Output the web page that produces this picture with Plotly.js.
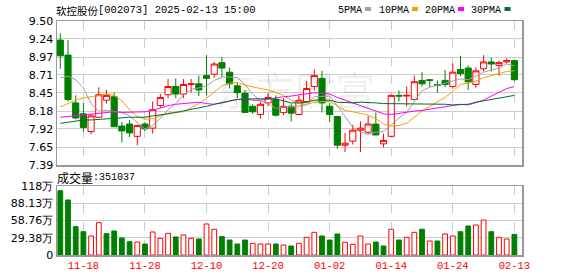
<!DOCTYPE html>
<html><head><meta charset="utf-8">
<script src="https://cdn.plot.ly/plotly-3.0.1.min.js"></script>
<style>html,body{margin:0;padding:0;background:#fff}#chart{width:578px;height:276px}</style>
</head><body><div id="chart"></div>
<script>
const dates = ['11-13','11-14','11-15','11-18','11-19','11-20','11-21','11-22','11-25','11-26','11-27','11-28','11-29',
'12-02','12-03','12-04','12-05','12-06','12-09','12-10','12-11','12-12','12-13','12-16','12-17','12-18','12-19','12-20',
'12-23','12-24','12-25','12-26','12-27','12-30','12-31',
'01-02','01-03','01-06','01-07','01-08','01-09','01-10','01-13','01-14','01-15','01-16','01-17','01-20','01-21','01-22','01-23','01-24','01-27',
'02-05','02-06','02-07','02-10','02-11','02-12','02-13'];
const openP  = [9.22,9.00,8.30,8.14,7.88,8.09,8.34,8.39,7.96,7.99,7.81,7.99,7.93,8.26,8.42,8.54,8.43,8.57,8.58,8.70,8.72,8.89,8.75,8.55,8.44,8.25,8.13,8.30,8.35,8.16,8.25,8.13,8.32,8.54,8.66,8.25,8.10,7.68,7.74,7.90,7.87,7.99,7.70,7.81,8.41,8.40,8.35,8.63,8.64,8.57,8.63,8.54,8.79,8.81,8.57,8.80,8.90,8.85,8.90,8.92];
const highP  = [9.32,9.22,8.41,8.30,8.14,8.53,8.49,8.45,8.02,8.05,7.98,8.02,8.32,8.43,8.65,8.66,8.65,8.65,8.70,9.00,8.90,8.97,8.82,8.59,8.49,8.28,8.32,8.44,8.41,8.37,8.29,8.40,8.62,8.79,8.77,8.30,8.11,7.86,7.98,8.03,8.11,8.16,7.85,8.42,8.48,8.54,8.70,8.75,8.65,8.63,8.78,8.88,8.99,8.85,8.82,9.00,8.96,8.92,8.95,8.93];
const lowP   = [8.80,8.32,8.06,7.88,7.84,8.08,8.29,7.95,7.72,7.80,7.68,7.89,7.85,8.23,8.37,8.37,8.37,8.45,8.40,8.41,8.67,8.68,8.51,8.37,8.16,8.14,8.07,8.25,8.10,8.12,8.03,8.12,8.30,8.48,8.16,8.02,7.63,7.58,7.69,7.58,7.84,7.83,7.65,7.80,8.32,8.25,8.34,8.54,8.53,8.45,8.53,8.51,8.69,8.49,8.52,8.76,8.76,8.70,8.88,8.62];
const closeP = [8.99,8.35,8.08,7.94,8.11,8.42,8.41,7.95,7.89,7.86,7.97,7.92,8.20,8.38,8.54,8.43,8.57,8.58,8.49,8.66,8.87,8.81,8.58,8.45,8.16,8.17,8.28,8.38,8.12,8.25,8.15,8.34,8.51,8.70,8.30,8.13,7.68,7.71,7.90,7.93,7.99,7.83,7.75,8.41,8.40,8.41,8.61,8.58,8.63,8.56,8.57,8.75,8.73,8.61,8.77,8.90,8.87,8.89,8.92,8.64];
const volume = [1095000,937000,482000,397000,324000,551000,363000,409000,290000,227000,221000,187000,392000,284000,369000,307000,341000,284000,272000,528000,438000,312000,255000,187000,255000,199000,187000,187000,187000,170000,153000,199000,301000,386000,324000,255000,358000,216000,182000,324000,187000,221000,153000,438000,255000,301000,386000,438000,238000,238000,358000,324000,397000,494000,511000,596000,397000,301000,272000,351037];
const ma5  = [8.67,8.69,8.64,8.52,8.29,8.18,8.19,8.17,8.16,8.11,8.02,7.92,7.97,8.07,8.20,8.29,8.42,8.50,8.52,8.55,8.63,8.68,8.68,8.67,8.57,8.43,8.33,8.29,8.22,8.24,8.24,8.25,8.27,8.39,8.40,8.40,8.26,8.10,7.94,7.87,7.84,7.87,7.88,7.98,8.08,8.16,8.32,8.48,8.53,8.56,8.59,8.62,8.65,8.64,8.69,8.75,8.78,8.81,8.87,8.84];
const ma10 = [8.24,8.29,8.34,8.37,8.39,8.42,8.43,8.41,8.33,8.20,8.10,8.06,8.07,8.11,8.15,8.16,8.17,8.23,8.29,8.37,8.46,8.55,8.59,8.60,8.56,8.53,8.51,8.49,8.45,8.41,8.34,8.29,8.28,8.31,8.32,8.32,8.26,8.19,8.17,8.14,8.12,8.07,7.99,7.96,7.97,8.00,8.09,8.18,8.25,8.32,8.38,8.47,8.57,8.59,8.62,8.67,8.70,8.73,8.76,8.77];
const ma20 = [8.09,8.10,8.11,8.13,8.14,8.15,8.16,8.17,8.16,8.16,8.16,8.17,8.19,8.23,8.26,8.28,8.29,8.30,8.31,8.29,8.28,8.30,8.33,8.35,8.36,8.34,8.34,8.36,8.37,8.39,8.40,8.42,8.44,8.45,8.44,8.43,8.38,8.34,8.31,8.27,8.23,8.18,8.14,8.13,8.15,8.16,8.18,8.19,8.21,8.23,8.25,8.27,8.28,8.27,8.30,8.34,8.40,8.45,8.51,8.54];
const ma30 = [8.00,8.02,8.04,8.05,8.05,8.06,8.07,8.07,8.08,8.09,8.09,8.09,8.11,8.12,8.14,8.16,8.18,8.20,8.22,8.25,8.28,8.31,8.33,8.35,8.36,8.36,8.36,8.36,8.36,8.33,8.30,8.30,8.31,8.34,8.34,8.34,8.31,8.30,8.30,8.31,8.31,8.30,8.29,8.29,8.28,8.28,8.29,8.29,8.29,8.29,8.28,8.27,8.28,8.28,8.31,8.33,8.35,8.37,8.39,8.41];
const priceTicks = [7.39,7.65,7.92,8.18,8.45,8.71,8.97,9.24,9.50];
const volTickVals = [0,293800,587600,881300,1175200];
const volTickText = ['0','29.38万','58.76万','88.13万','118万'];
const dateTicks = ['11-18','11-28','12-10','12-20','01-02','01-14','01-24','02-13'];
const maNames = ['5PMA','10PMA','20PMA','30PMA'];
const maColors = ['#a0a0a0','#f2a100','#ff00ff','#006e3a'];

const RED = '#ff0000', GREEN = '#008000';
const up = volume.map((v,i)=> closeP[i] >= (i>0 ? closeP[i-1] : openP[i]));

const traces = [];
traces.push({type:'candlestick', x:dates, open:openP, high:highP, low:lowP, close:closeP,
  xaxis:'x', yaxis:'y', whiskerwidth:0, hoverinfo:'none', showlegend:false,
  increasing:{line:{color:RED,width:1}, fillcolor:'#ffffff'},
  decreasing:{line:{color:GREEN,width:1}, fillcolor:GREEN}});
[ma5,ma10,ma20,ma30].forEach((m,k)=>traces.push({type:'scatter', mode:'lines', x:dates, y:m,
  xaxis:'x', yaxis:'y', line:{color:maColors[k], width:1}, hoverinfo:'none', showlegend:false}));
traces.push({type:'bar', x:dates, y:volume, xaxis:'x2', yaxis:'y2', width:0.62, hoverinfo:'none', showlegend:false,
  marker:{color:up.map(u=>u?'#ffffff':GREEN), line:{color:up.map(u=>u?RED:GREEN), width:1}}});

const W=578, H=276;
const px = v => v/W, py = v => (H-v)/H;
const dom = [px(57), px(522)];
const mono = 'Liberation Mono, DejaVu Sans Mono, monospace';
const cjk = 'Noto Sans CJK SC, sans-serif';
const tickF = {family:'DejaVu Sans, sans-serif', size:11, color:'#000'};

const annotations = [
  {text:'软控股份', x:px(55), y:py(10), xanchor:'left', yanchor:'middle', font:{family:cjk,size:10.5,color:'#000'}},
  {text:'[002073] 2025-02-13 15:00', x:px(97), y:py(10), xanchor:'left', yanchor:'middle', font:{family:mono,size:10.5,color:'#000'}},
  {text:'成交量', x:px(56), y:py(177), xanchor:'left', yanchor:'middle', font:{family:cjk,size:12,color:'#000'}},
  {text:':' + String(volume[volume.length-1]), x:px(92), y:py(177), xanchor:'left', yanchor:'middle', font:{family:mono,size:10,color:'#000'}},
  {text:'东方财富', x:px(295), y:py(89), xanchor:'center', yanchor:'middle', font:{family:cjk,size:40,color:'rgba(0,0,0,0.07)'}}
];
const legX = [337, 378, 424, 470];
const sqX = [365, 412, 458, 504.5];
const shapes = [];
maNames.forEach((n,k)=>{
  annotations.push({text:n, x:px(legX[k]), y:py(10), xanchor:'left', yanchor:'middle', font:{family:mono,size:10,color:'#000'}});
  shapes.push({type:'rect', xref:'paper', yref:'paper', x0:px(sqX[k]), x1:px(sqX[k]+6), y0:py(11), y1:py(7), fillcolor:maColors[k], line:{width:0}});
});
annotations.forEach(a=>{a.xref='paper'; a.yref='paper'; a.showarrow=false; a.borderpad=0;});

const layout = {
  width:W, height:H, margin:{l:0,r:0,t:0,b:0}, paper_bgcolor:'#fff', plot_bgcolor:'#fff',
  showlegend:false, dragmode:false, boxgap:0.2, boxgroupgap:0,
  xaxis:{domain:dom, anchor:'y', type:'category', range:[-0.43,59.99], tickvals:dateTicks, showticklabels:false, ticks:'',
    showgrid:true, gridcolor:'#cccccc', griddash:'dash', gridwidth:1, showline:true, mirror:true, linecolor:'#999', linewidth:1.5,
    zeroline:false, rangeslider:{visible:false}, fixedrange:true},
  yaxis:{domain:[py(165), py(21)], anchor:'x', range:[7.39,9.50], tickvals:priceTicks, ticktext:priceTicks.map(v=>v.toFixed(2)),
    showgrid:true, gridcolor:'#cccccc', gridwidth:1, showline:true, mirror:true, linecolor:'#999', linewidth:1.5, zeroline:false,
    ticks:'', tickfont:tickF, fixedrange:true},
  xaxis2:{domain:dom, anchor:'y2', type:'category', matches:'x', range:[-0.43,59.99], tickvals:dateTicks, ticktext:dateTicks, ticks:'',
    showgrid:true, gridcolor:'#cccccc', griddash:'dash', gridwidth:1, showline:true, mirror:true, linecolor:'#999', linewidth:1.5,
    zeroline:false, tickfont:{family:mono, size:10.5, color:RED}, fixedrange:true},
  yaxis2:{domain:[py(255), py(186)], anchor:'x2', range:[0,1175200], tickvals:volTickVals, ticktext:volTickText,
    showgrid:true, gridcolor:'#cccccc', gridwidth:1, showline:true, mirror:true, linecolor:'#999', linewidth:1.5, zeroline:false,
    ticks:'', tickfont:tickF, fixedrange:true},
  annotations:annotations, shapes:shapes
};
Plotly.newPlot('chart', traces, layout, {displayModeBar:false, staticPlot:true});
</script></body></html>
